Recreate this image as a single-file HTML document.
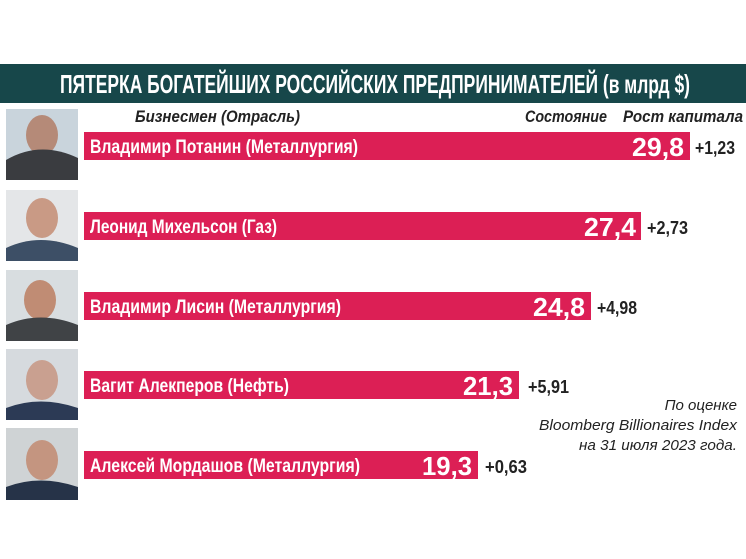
<!DOCTYPE html>
<html><head><meta charset="utf-8"><style>
html,body{margin:0;padding:0;background:#fff;}
svg{display:block;}
text{font-family:"Liberation Sans","DejaVu Sans",sans-serif;}
</style></head><body>
<svg width="746" height="559" viewBox="0 0 746 559" xmlns="http://www.w3.org/2000/svg">
<rect x="0" y="0" width="746" height="559" fill="#fff"/>
<rect x="0" y="64" width="746" height="39" fill="#17474a"/>
<text x="60" y="93" font-size="26" font-weight="bold" fill="#fff" textLength="630" lengthAdjust="spacingAndGlyphs">ПЯТЕРКА БОГАТЕЙШИХ РОССИЙСКИХ ПРЕДПРИНИМАТЕЛЕЙ (в млрд $)</text>
<g font-style="italic" font-weight="bold" font-size="17" fill="#222">
<text x="135" y="122" textLength="165" lengthAdjust="spacingAndGlyphs">Бизнесмен (Отрасль)</text>
<text x="525" y="122" textLength="82" lengthAdjust="spacingAndGlyphs">Состояние</text>
<text x="623" y="122" textLength="120" lengthAdjust="spacingAndGlyphs">Рост капитала</text>
</g>
<g>
<rect x="6" y="109" width="72" height="71" fill="#c9d4dc"/><ellipse cx="42" cy="135" rx="16" ry="20" fill="#b58a78"/><path d="M6 180 L6 160 Q40 140 78 158 L78 180Z" fill="#3a3c40"/>
<rect x="6" y="190" width="72" height="71" fill="#e4e6e8"/><ellipse cx="42" cy="218" rx="16" ry="20" fill="#c99a85"/><path d="M6 261 L6 248 Q40 232 78 248 L78 261Z" fill="#3d4f66"/>
<rect x="6" y="270" width="72" height="71" fill="#d8dde0"/><ellipse cx="40" cy="300" rx="16" ry="20" fill="#c08c74"/><path d="M6 341 L6 325 Q40 310 78 325 L78 341Z" fill="#404346"/>
<rect x="6" y="349" width="72" height="71" fill="#d6dade"/><ellipse cx="42" cy="380" rx="16" ry="20" fill="#c9a090"/><path d="M6 420 L6 408 Q40 395 78 408 L78 420Z" fill="#2c3a55"/>
<rect x="6" y="428" width="72" height="72" fill="#cfd3d5"/><ellipse cx="42" cy="460" rx="16" ry="20" fill="#c49580"/><path d="M6 500 L6 487 Q40 474 78 487 L78 500Z" fill="#263348"/>
</g>
<g fill="#dc1f55">
<rect x="84" y="132" width="606" height="28"/>
<rect x="84" y="212" width="557" height="28"/>
<rect x="84" y="292" width="507" height="28"/>
<rect x="84" y="371" width="435" height="28"/>
<rect x="84" y="451" width="394" height="28"/>
</g>
<g fill="#fff" font-weight="bold" font-size="19">
<text x="90" y="153" textLength="268" lengthAdjust="spacingAndGlyphs">Владимир Потанин (Металлургия)</text>
<text x="90" y="233" textLength="187" lengthAdjust="spacingAndGlyphs">Леонид Михельсон (Газ)</text>
<text x="90" y="313" textLength="251" lengthAdjust="spacingAndGlyphs">Владимир Лисин (Металлургия)</text>
<text x="90" y="392" textLength="199" lengthAdjust="spacingAndGlyphs">Вагит Алекперов (Нефть)</text>
<text x="90" y="472" textLength="270" lengthAdjust="spacingAndGlyphs">Алексей Мордашов (Металлургия)</text>
</g>
<g fill="#fff" font-weight="bold" font-size="26">
<text x="632" y="156" textLength="52" lengthAdjust="spacingAndGlyphs">29,8</text>
<text x="584" y="236" textLength="52" lengthAdjust="spacingAndGlyphs">27,4</text>
<text x="533" y="316" textLength="52" lengthAdjust="spacingAndGlyphs">24,8</text>
<text x="463" y="395" textLength="50" lengthAdjust="spacingAndGlyphs">21,3</text>
<text x="422" y="475" textLength="50" lengthAdjust="spacingAndGlyphs">19,3</text>
</g>
<g fill="#222" font-weight="bold" font-size="18">
<text x="695" y="154" textLength="40" lengthAdjust="spacingAndGlyphs">+1,23</text>
<text x="647" y="234" textLength="41" lengthAdjust="spacingAndGlyphs">+2,73</text>
<text x="597" y="314" textLength="40" lengthAdjust="spacingAndGlyphs">+4,98</text>
<text x="528" y="393" textLength="41" lengthAdjust="spacingAndGlyphs">+5,91</text>
<text x="485" y="473" textLength="42" lengthAdjust="spacingAndGlyphs">+0,63</text>
</g>
<g fill="#222" font-style="italic" font-size="15" text-anchor="end">
<text x="737" y="410">По оценке</text>
<text x="737" y="430" textLength="198" lengthAdjust="spacingAndGlyphs">Bloomberg Billionaires Index</text>
<text x="737" y="450" textLength="158" lengthAdjust="spacingAndGlyphs">на 31 июля 2023 года.</text>
</g>
</svg>
</body></html>
